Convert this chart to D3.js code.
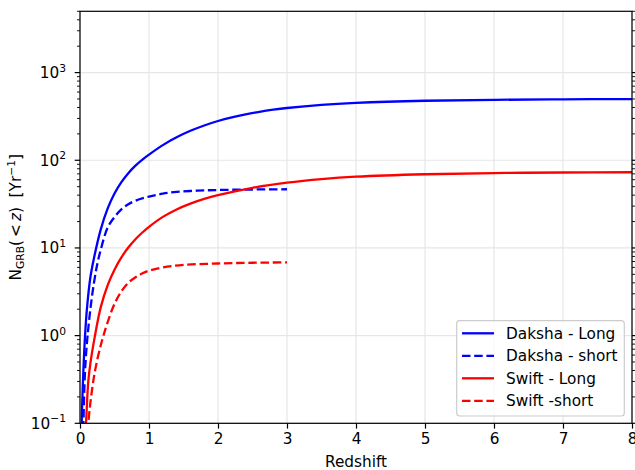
<!DOCTYPE html>
<html><head><meta charset="utf-8">
<script src="https://cdn.jsdelivr.net/npm/d3@7"></script>
<style>body{margin:0;background:#fff}svg{display:block;font-family:"DejaVu Sans",sans-serif}</style>
</head><body>
<svg id="c" width="635" height="470"></svg>
<script>
// Data
const dakshaLongZ = [0.02,0.03,0.05,0.075,0.1,0.15,0.2,0.3,0.4,0.5,0.6,0.7,0.8,0.9,1.0,1.2,1.4,1.6,1.8,2.0,2.2,2.4,2.6,2.8,3.0,3.5,4.0,5.0,6.0,7.0,8.0];
const dakshaLongN = [0.07,0.15,0.42,1.05,2.0,4.6,7.5,16.2,28.1,41.8,56.4,71.3,86.3,101.2,116.1,148.9,182.8,216.7,249.4,280.3,308.6,334.3,357.1,377.3,394.7,428.6,451.2,477,489,495,499];
const dakshaShortZ = [0.045,0.05,0.07,0.09,0.11,0.15,0.2,0.25,0.3,0.4,0.5,0.6,0.7,0.8,1.0,1.2,1.4,1.7,2.0,2.5,3.0];
const dakshaShortN = [0.085,0.11,0.35,0.65,1.0,2.0,3.9,6.5,9.5,17,22.5,27.5,31.5,34.5,38.5,41.6,43.6,45.0,45.8,46.4,46.7];
const swiftLongZ = [0.08,0.09,0.12,0.15,0.217,0.3,0.4,0.5,0.6,0.7,0.8,0.9,1.0,1.2,1.4,1.6,1.8,2.0,2.5,3.0,3.5,4.0,5.0,6.0,7.0,8.0];
const swiftLongN = [0.08,0.11,0.3,0.48,1.0,2.1,3.75,5.65,7.8,10.1,12.5,14.9,17.4,22.6,27.5,32.0,36.2,40.0,48.5,55.5,61.0,65.0,69.3,71.5,72.5,73.0];
const swiftShortZ = [0.11,0.12,0.15,0.2,0.25,0.3,0.34,0.4,0.5,0.6,0.7,0.8,0.9,1.0,1.2,1.5,2.0,2.5,3.0];
const swiftShortN = [0.08,0.1,0.17,0.33,0.53,0.77,1.0,1.42,2.3,3.2,4.0,4.6,5.1,5.5,6.0,6.4,6.65,6.78,6.85];
const seriesNames = ["Daksha - Long","Daksha - short","Swift - Long","Swift -short"];
const xTicks = [0,1,2,3,4,5,6,7,8];
const yExps = [-1,0,1,2,3];

const svg = d3.select("#c");
const L=80, R=632, T=11.3, B=423.3;
const x = d3.scaleLinear().domain([0,8]).range([L,R]);
const y = d3.scaleLog().domain([0.1,5000]).range([B,T]);
const fs = 15.3;

svg.append("defs").append("clipPath").attr("id","pc").append("rect")
  .attr("x",L).attr("y",T).attr("width",R-L).attr("height",B-T);

// grid
const grid = svg.append("g").attr("stroke","#e6e6e6").attr("stroke-width",1.2);
xTicks.forEach(t=>grid.append("line").attr("x1",x(t)).attr("x2",x(t)).attr("y1",T).attr("y2",B));
yExps.forEach(e=>grid.append("line").attr("x1",L).attr("x2",R).attr("y1",y(Math.pow(10,e))).attr("y2",y(Math.pow(10,e))));

// lines
const line = d3.line().x(d=>x(d[0])).y(d=>y(d[1])).curve(d3.curveCatmullRom.alpha(0.5));
const series = [
  {z:dakshaLongZ,n:dakshaLongN,c:"#0000ff",dash:null},
  {z:dakshaShortZ,n:dakshaShortN,c:"#0000ff",dash:"8.5,3.7"},
  {z:swiftLongZ,n:swiftLongN,c:"#ff0000",dash:null},
  {z:swiftShortZ,n:swiftShortN,c:"#ff0000",dash:"8.5,3.7"}
];
const lg = svg.append("g").attr("clip-path","url(#pc)");
series.forEach(s=>{
  lg.append("path").datum(s.z.map((z,i)=>[z,s.n[i]]))
    .attr("d",line).attr("fill","none").attr("stroke",s.c).attr("stroke-width",2.3)
    .attr("stroke-dasharray",s.dash);
});

// x axis
const xAxis = d3.axisBottom(x).tickValues(xTicks).tickFormat(d3.format("d")).tickSize(5.3).tickPadding(5);
const gx = svg.append("g").attr("transform",`translate(0,${B})`).call(xAxis);
gx.select(".domain").remove();
gx.selectAll("line").attr("stroke","#000").attr("stroke-width",1.2);
gx.selectAll("text").attr("font-size",fs).attr("font-family","DejaVu Sans").attr("fill","#000");

// y ticks major & minor, left and right
const minor=[];
for(let e=-1;e<=3;e++) for(let m=2;m<=9;m++){const v=m*Math.pow(10,e); if(v<=5000) minor.push(v);}
const tk = svg.append("g").attr("stroke","#000");
yExps.forEach(e=>{
  const yy=y(Math.pow(10,e));
  tk.append("line").attr("x1",L-5.3).attr("x2",L).attr("y1",yy).attr("y2",yy).attr("stroke-width",1.2);
  tk.append("line").attr("x1",R).attr("x2",R+5.3).attr("y1",yy).attr("y2",yy).attr("stroke-width",1.2);
});
minor.forEach(v=>{
  const yy=y(v);
  tk.append("line").attr("x1",L-3).attr("x2",L).attr("y1",yy).attr("y2",yy).attr("stroke-width",0.9);
  tk.append("line").attr("x1",R).attr("x2",R+3).attr("y1",yy).attr("y2",yy).attr("stroke-width",0.9);
});
yExps.forEach(e=>{
  const t = svg.append("text").attr("x",66).attr("y",y(Math.pow(10,e))+5.5)
    .attr("text-anchor","end").attr("font-size",fs).attr("fill","#000");
  t.append("tspan").text("10");
  t.append("tspan").attr("dy",-6.5).attr("font-size",fs*0.7).text(e<0?"\u2212"+(-e):String(e));
});

// frame
svg.append("rect").attr("x",L).attr("y",T).attr("width",R-L).attr("height",B-T)
  .attr("fill","none").attr("stroke","#000").attr("stroke-width",1.2);

// axis labels
svg.append("text").attr("x",(L+R)/2).attr("y",467).attr("text-anchor","middle")
  .attr("font-size",fs).attr("fill","#000").text("Redshift");
const yl = svg.append("text").attr("transform",`translate(21,${(T+B)/2}) rotate(-90)`)
  .attr("text-anchor","middle").attr("font-size",fs).attr("fill","#000");
yl.append("tspan").text("N");
yl.append("tspan").attr("font-size",fs*0.7).attr("dy",3).text("GRB");
yl.append("tspan").attr("dy",-3).text("(\u2009<\u2009");
yl.append("tspan").attr("font-style","italic").text("z");
yl.append("tspan").text(")\u00a0\u00a0[Yr");
yl.append("tspan").attr("font-size",fs*0.7).attr("dy",-6).text("\u22121");
yl.append("tspan").attr("dy",6).text("]");

// legend
const lgX=456.7, lgY=320.7, lgW=167.6, lgH=95.3;
svg.append("rect").attr("x",lgX).attr("y",lgY).attr("width",lgW).attr("height",lgH)
  .attr("rx",3).attr("fill","#fff").attr("fill-opacity",0.8).attr("stroke","#cccccc").attr("stroke-width",1.2);
const rows=[333.3,355.8,378.3,400.8];
series.forEach((s,i)=>{
  svg.append("line").attr("x1",462).attr("x2",494).attr("y1",rows[i]).attr("y2",rows[i])
    .attr("stroke",s.c).attr("stroke-width",2.3).attr("stroke-dasharray",s.dash);
  svg.append("text").attr("x",506).attr("y",rows[i]+5.5).attr("font-size",fs).attr("fill","#000").text(seriesNames[i]);
});
</script>
</body></html>
